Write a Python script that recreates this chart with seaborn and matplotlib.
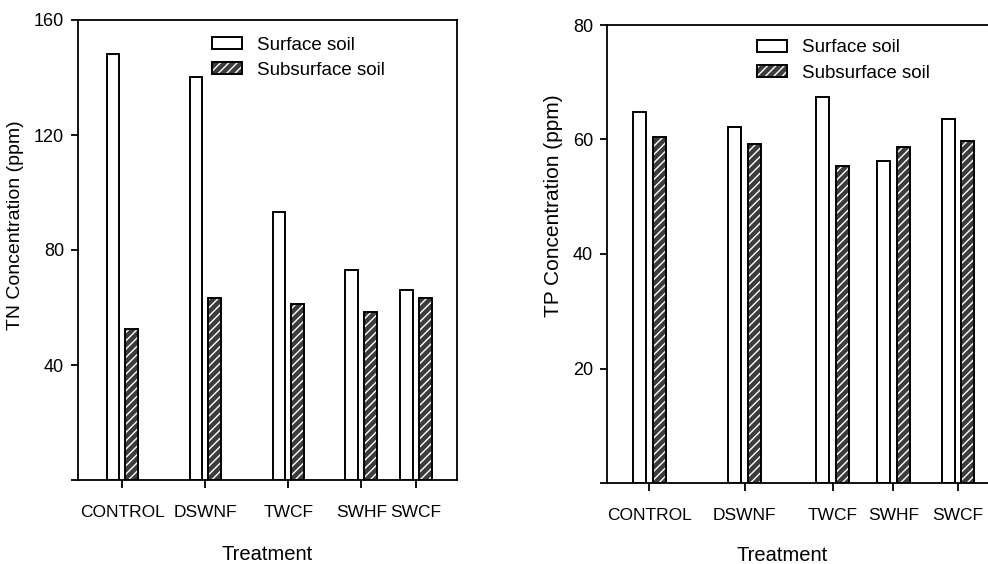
import matplotlib
matplotlib.use("Agg")
import matplotlib.pyplot as plt
import matplotlib.colors as mcolors
import seaborn as sns
import pandas as pd

# data
treatments = ["CONTROL", "DSWNF", "TWCF", "SWHF", "SWCF"]
soils = ["Surface soil", "Subsurface soil"]
tn_surface = [148.2, 140.1, 93.1, 73.2, 66.1]
tn_subsurface = [52.4, 63.2, 61.1, 58.5, 63.2]
tp_surface = [64.8, 62.1, 67.4, 56.3, 63.6]
tp_subsurface = [60.5, 59.2, 55.4, 58.7, 59.7]

# group positions along the x axis (uneven, as in the original figure)
tn_pos = [11.74, 33.64, 55.54, 74.80, 89.18]
tp_pos = [10.95, 35.44, 58.12, 73.84, 90.46]


def long_df(surface, subsurface, pos):
    rows = []
    for t, p, s, ss in zip(treatments, pos, surface, subsurface):
        rows.append({"Treatment": t, "pos": p, "soil": soils[0], "value": s})
        rows.append({"Treatment": t, "pos": p, "soil": soils[1], "value": ss})
    return pd.DataFrame(rows)


sns.set_style("ticks")
plt.rcParams["font.family"] = ["Liberation Sans", "DejaVu Sans"]
plt.rcParams["hatch.linewidth"] = 1.0
for k in ["text.color", "axes.labelcolor", "xtick.color", "ytick.color",
          "axes.edgecolor"]:
    plt.rcParams[k] = "black"

W, H = 988, 564
fig = plt.figure(figsize=(W / 100, H / 100), dpi=100)
ax1 = fig.add_axes([78 / W, 1 - 480 / H, 379 / W, 460 / H])
ax2 = fig.add_axes([607 / W, 1 - 483 / H, 388 / W, 458 / H])

palette = {soils[0]: "white", soils[1]: "#3c3c3c"}

panels = [
    (ax1, long_df(tn_surface, tn_subsurface, tn_pos), tn_pos, 0.697, 0.316,
     [0, 40, 80, 120, 160], 160, "TN Concentration (ppm)", 14,
     (-0.1425, 0.554), (0.50, -0.142), (0.354, 0.964)),
    (ax2, long_df(tp_surface, tp_subsurface, tp_pos), tp_pos, 0.64, 0.333,
     [0, 20, 40, 60, 80], 80, "TP Concentration (ppm)", 15,
     (-0.113, 0.605), (0.451, -0.137), (0.387, 0.969)),
]

for ax, df, pos, width, gap, yt, ymax, ylab, ylfs, ylc, xlc, legpos in panels:
    sns.barplot(data=df, x="pos", y="value", hue="soil", hue_order=soils,
                palette=palette, native_scale=True, width=width, gap=gap,
                saturation=1, edgecolor="black", linewidth=1.4,
                errorbar=None, legend=False, ax=ax)
    for p in ax.containers[1]:
        p.set_hatch("////")
        p._hatch_color = mcolors.to_rgba("white")

    ax.set_xlim(0, 100)
    ax.set_ylim(0, ymax)
    ax.set_xticks(pos)
    ax.set_xticklabels(treatments, fontsize=12.5)
    ax.set_yticks(yt)
    ax.set_yticklabels([""] + [str(v) for v in yt[1:]], fontsize=13)
    ax.tick_params(axis="x", length=6, width=1.3, pad=12, colors="black")
    ax.tick_params(axis="y", length=5, width=1.3, pad=5, colors="black")
    for s in ax.spines.values():
        s.set_linewidth(1.3)
        s.set_color("black")
        s.set_visible(True)

    ax.set_ylabel(ylab, fontsize=ylfs, color="black")
    ax.yaxis.set_label_coords(*ylc)
    ax.set_xlabel("Treatment", fontsize=14.5, color="black")
    ax.xaxis.set_label_coords(*xlc)

    ax.legend(ax.containers, soils, loc="upper left", bbox_to_anchor=legpos,
              frameon=False, fontsize=13.5, borderpad=0, borderaxespad=0,
              handlelength=1.6, handleheight=0.6, handletextpad=0.8,
              labelspacing=0.45, labelcolor="black")

fig.savefig("out.png", dpi=100)
